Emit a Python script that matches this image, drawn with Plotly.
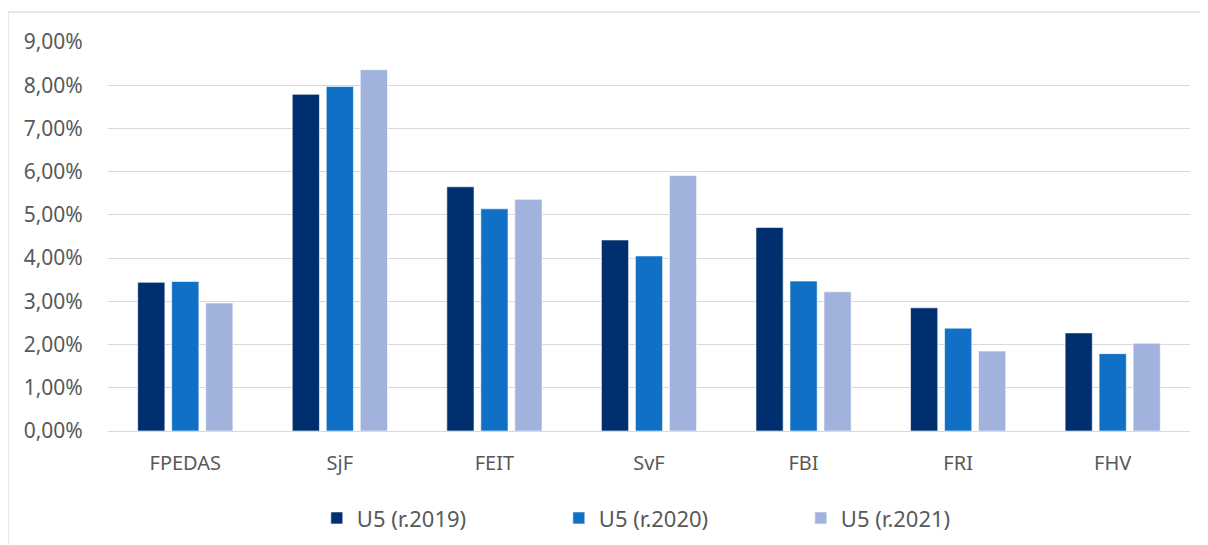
import plotly.graph_objects as go

# fakulty a podiely (v %)
categories = ["FPEDAS", "SjF", "FEIT", "SvF", "FBI", "FRI", "FHV"]
u5_2019 = [3.44, 7.79, 5.65, 4.42, 4.71, 2.85, 2.27]
u5_2020 = [3.46, 7.97, 5.14, 4.05, 3.47, 2.38, 1.79]
u5_2021 = [2.96, 8.36, 5.36, 5.91, 3.22, 1.85, 2.03]
series_names = ["U5 (r.2019)", "U5 (r.2020)", "U5 (r.2021)"]
y_ticks = [0, 1, 2, 3, 4, 5, 6, 7, 8, 9]
y_ticktext = [f"{v},00%" for v in y_ticks]

colors = ["#002F6F", "#1070C6", "#A1B3DC"]
font_color = "#595959"
grid_color = "#D9D9D9"

fig = go.Figure()
for name, vals, col in zip(series_names, [u5_2019, u5_2020, u5_2021], colors):
    fig.add_trace(go.Bar(
        x=categories, y=vals, name=name,
        marker=dict(color=col, line=dict(color="rgba(255,255,255,0.6)", width=1)),
    ))

# outer chart border (top/left visible in the reference)
fig.add_shape(type="rect", xref="paper", yref="paper",
              x0=-0.0924, x1=1.2, y0=-0.6, y1=1.077,
              line=dict(color=grid_color, width=1.2), fillcolor="rgba(0,0,0,0)")

# page body has an 8px margin, so the figure is 8px smaller than the window
fig.update_layout(
    width=1200, height=537,
    margin=dict(l=100, r=18, t=34, b=114, autoexpand=False),
    paper_bgcolor="white", plot_bgcolor="white",
    barmode="group", bargap=0.34, bargroupgap=0.2,
    font=dict(family="Noto Sans", size=20, color=font_color),
    legend=dict(
        orientation="h", x=0.193, xanchor="left", y=-0.224, yanchor="middle",
        entrywidth=197, entrywidthmode="pixels",
        font=dict(size=22, color=font_color), bgcolor="rgba(0,0,0,0)",
    ),
    showlegend=True,
)
fig.update_xaxes(
    showgrid=False, showline=False, zeroline=False,
    ticks="outside", ticklen=14, tickcolor="rgba(0,0,0,0)",
    tickfont=dict(size=20, color=font_color),
)
fig.update_yaxes(
    range=[0, 9], tickmode="array", tickvals=y_ticks, ticktext=y_ticktext,
    showgrid=True, gridcolor=grid_color, gridwidth=1.3,
    zeroline=True, zerolinecolor=grid_color, zerolinewidth=1.3,
    showline=False,
    ticks="outside", ticklen=20, tickcolor="rgba(0,0,0,0)",
    tickfont=dict(size=21, color=font_color),
)

fig.write_html("out.html")
